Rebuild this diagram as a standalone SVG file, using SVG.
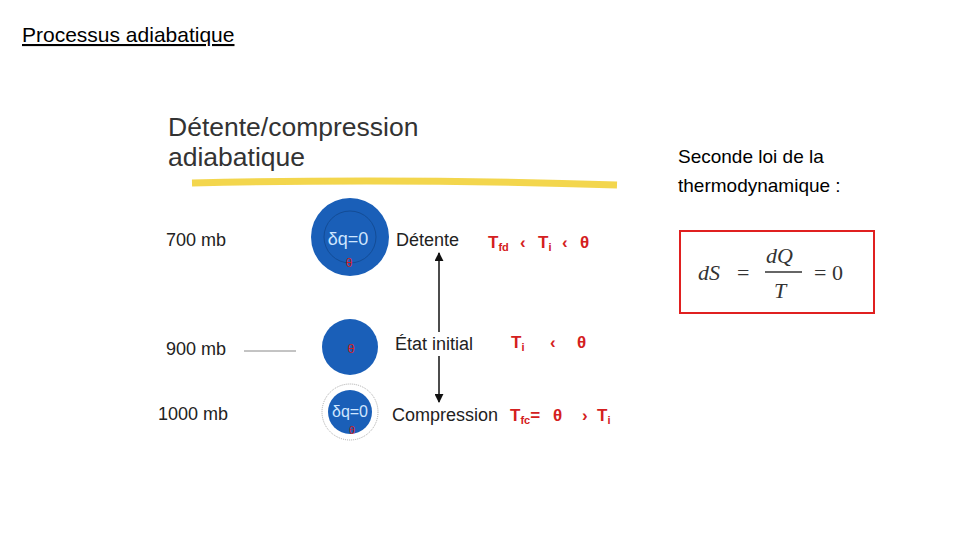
<svg xmlns="http://www.w3.org/2000/svg" width="960" height="540" viewBox="0 0 960 540">
<style>
.c{font-family:"Liberation Sans",sans-serif}
.k{font-family:"Liberation Sans",sans-serif;font-size:18px;fill:#222}
.r{font-family:"Liberation Sans",sans-serif;font-size:17px;fill:#d42020;font-weight:bold}
.s{font-size:11px}
.m{font-family:"Liberation Serif",serif;font-size:22px;fill:#333}
</style>
<defs><marker id="a" viewBox="0 0 10 10" refX="9" refY="5" markerWidth="6" markerHeight="6" orient="auto-start-reverse"><path d="M0,0L10,5L0,10z" fill="#111"/></marker></defs>
<rect width="960" height="540" fill="#fff"/>
<text x="22" y="42" class="c" font-size="21" fill="#000" text-decoration="underline">Processus adiabatique</text>
<text x="168" y="136" class="c" font-size="26.5" fill="#333">Détente/compression</text>
<text x="168" y="166" class="c" font-size="26.5" fill="#333">adiabatique</text>
<path d="M192,183 Q400,178 617,185" stroke="#f2d13a" stroke-width="7" fill="none" opacity="0.9"/>
<g id="levels">
<text x="166" y="246" class="k">700 mb</text>
<text x="166" y="355" class="k">900 mb</text>
<line x1="244" y1="351" x2="296" y2="351" stroke="#888"/>
<text x="158" y="420" class="k">1000 mb</text>
</g>
<g id="p700"><circle cx="350" cy="237" r="39" fill="#1a5fb8"/><circle cx="350" cy="237" r="26" fill="none" stroke="#134c96"/>
<text x="348" y="245" class="c" font-size="18" fill="#cfe6ff" text-anchor="middle">δq=0</text><text x="349" y="267" class="c" font-size="12" fill="#d42020" text-anchor="middle">θ</text></g>
<g id="p900"><circle cx="350" cy="347" r="28" fill="#1a5fb8"/><text x="351" y="353" class="c" font-size="13" fill="#d42020" text-anchor="middle">θ</text></g>
<g id="p1000"><circle cx="350" cy="412" r="28" fill="none" stroke="#aaa" stroke-dasharray="1,1"/><circle cx="350" cy="412" r="22" fill="#1a5fb8"/>
<text x="350" y="417" class="c" font-size="16" fill="#cfe6ff" text-anchor="middle">δq=0</text><text x="352" y="434" class="c" font-size="11" fill="#d42020" text-anchor="middle">θ</text></g>
<g id="labels">
<text x="396" y="246" class="k">Détente</text>
<text x="395" y="350" class="k">État initial</text>
<text x="392" y="421" class="k">Compression</text>
<text x="488" y="248" class="r">T<tspan class="s" dy="3">fd</tspan></text>
<text x="520" y="248" class="r">‹</text>
<text x="538" y="248" class="r">T<tspan class="s" dy="3">i</tspan></text>
<text x="562" y="248" class="r">‹</text>
<text x="580" y="248" class="r">θ</text>
<text x="511" y="348" class="r">T<tspan class="s" dy="3">i</tspan></text>
<text x="550" y="348" class="r">‹</text>
<text x="577" y="348" class="r">θ</text>
<text x="510" y="421" class="r">T<tspan class="s" dy="3">fc</tspan><tspan dy="-3">=</tspan></text>
<text x="553" y="421" class="r">θ</text>
<text x="582" y="421" class="r">›</text>
<text x="597" y="421" class="r">T<tspan class="s" dy="3">i</tspan></text>
</g>
<g id="connectors">
<line x1="439" y1="253" x2="439" y2="332" stroke="#111" stroke-width="1.5" marker-start="url(#a)"/>
<line x1="439" y1="356" x2="439" y2="402" stroke="#111" stroke-width="1.5" marker-end="url(#a)"/>
</g>
<text x="678" y="163" class="c" font-size="19" fill="#000">Seconde loi de la</text>
<text x="678" y="192" class="c" font-size="19" fill="#000">thermodynamique :</text>
<g id="formula">
<rect x="680" y="231" width="194" height="82" fill="#fff" stroke="#e02020" stroke-width="2"/>
<text x="698" y="280" class="m" font-style="italic">dS</text>
<text x="737" y="280" class="m">=</text>
<text x="766" y="263" class="m" font-style="italic">dQ</text>
<line x1="765" y1="272" x2="802" y2="272" stroke="#333" stroke-width="1.3"/>
<text x="774" y="298" class="m" font-style="italic">T</text>
<text x="814" y="280" class="m">= 0</text>
</g>
</svg>
